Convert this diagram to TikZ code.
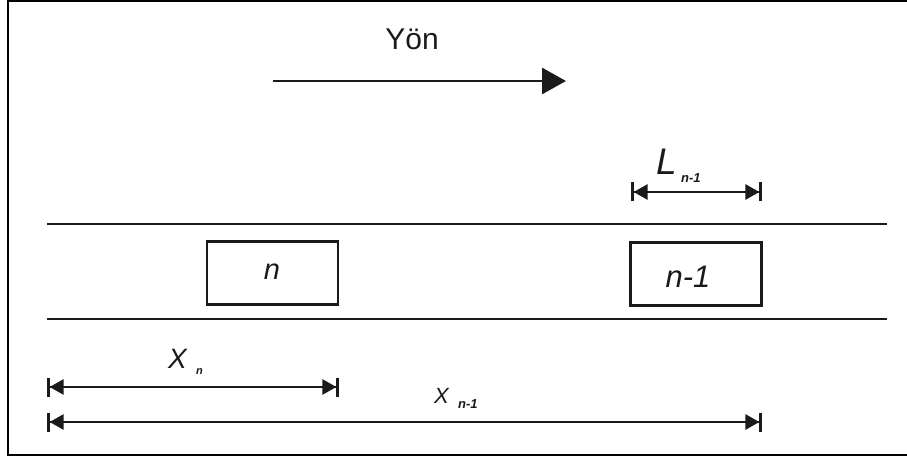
\documentclass[tikz,border=0pt]{standalone}
\usepackage{fontspec}
\setmainfont{Liberation Sans}
\usetikzlibrary{arrows.meta}
\definecolor{ink}{HTML}{1A1A1A}
\begin{document}
\begin{tikzpicture}[x=1pt,y=-1pt,
  dim/.style={draw=ink, line width=2.6pt,
    {Bar[width=19pt,line width=2.6pt]Triangle[length=14pt,width=15pt]}-{Triangle[length=14pt,width=15pt]Bar[width=19pt,line width=2.6pt]}},
  road/.style={draw=ink, line width=2.6pt},
  car/.style={draw=ink, line width=2.8pt, minimum width=131pt, minimum height=63pt, inner sep=0pt},
  lbl/.style={inner sep=0pt, text=ink}]
\useasboundingbox (0,0) rectangle (907,457);
\draw[line width=2pt] (8,1.5) rectangle (912,454.5);
% direction
\node[lbl, font=\fontsize{30}{34}\selectfont] (yon) at (412,39) {Yön};
\coordinate (ya) at (273,81);
\coordinate (yb) at (566,81);
\draw[ink, line width=2.8pt, -{Triangle[length=24pt,width=26pt]}] (ya) -- (yb);
% road
\coordinate (r1a) at (47,224); \coordinate (r1b) at (887,224);
\coordinate (r2a) at (47,319); \coordinate (r2b) at (887,319);
\draw[road] (r1a) -- (r1b);
\draw[road] (r2a) -- (r2b);
% cars
\node[car] (cn) at (272.5,273) {};
\node[lbl, font=\fontsize{29}{32}\selectfont\itshape] at (272,272) {n};
\node[car] (cn1) at (696,274) {};
\node[lbl, font=\fontsize{31}{34}\selectfont\itshape] at (688,277) {n-1};
% L_{n-1}
\coordinate (la) at (631,192); \coordinate (lb) at (762,192);
\draw[dim] (la) -- (lb);
\node[lbl, font=\fontsize{37}{40}\selectfont\itshape, anchor=base west] (L) at (656,175) {L};
\node[lbl, font=\fontsize{13}{14}\selectfont\bfseries\itshape, anchor=base west] at (681,183) {n-1};
% X_n
\coordinate (xa) at (47,387); \coordinate (xb) at (339,387);
\draw[dim] (xa) -- (xb);
\node[lbl, font=\fontsize{28}{30}\selectfont\itshape, anchor=base west] (X) at (168,368) {X};
\node[lbl, font=\fontsize{11}{12}\selectfont\bfseries\itshape, anchor=base west] at (196,374) {n};
% x_{n-1}
\coordinate (za) at (47,422); \coordinate (zb) at (762,422);
\draw[dim] (za) -- (zb);
\node[lbl, font=\fontsize{22}{24}\selectfont\itshape, anchor=base west] (X2) at (434,403) {X};
\node[lbl, font=\fontsize{13}{14}\selectfont\bfseries\itshape, anchor=base west] at (458,408) {n-1};
\end{tikzpicture}
\end{document}
